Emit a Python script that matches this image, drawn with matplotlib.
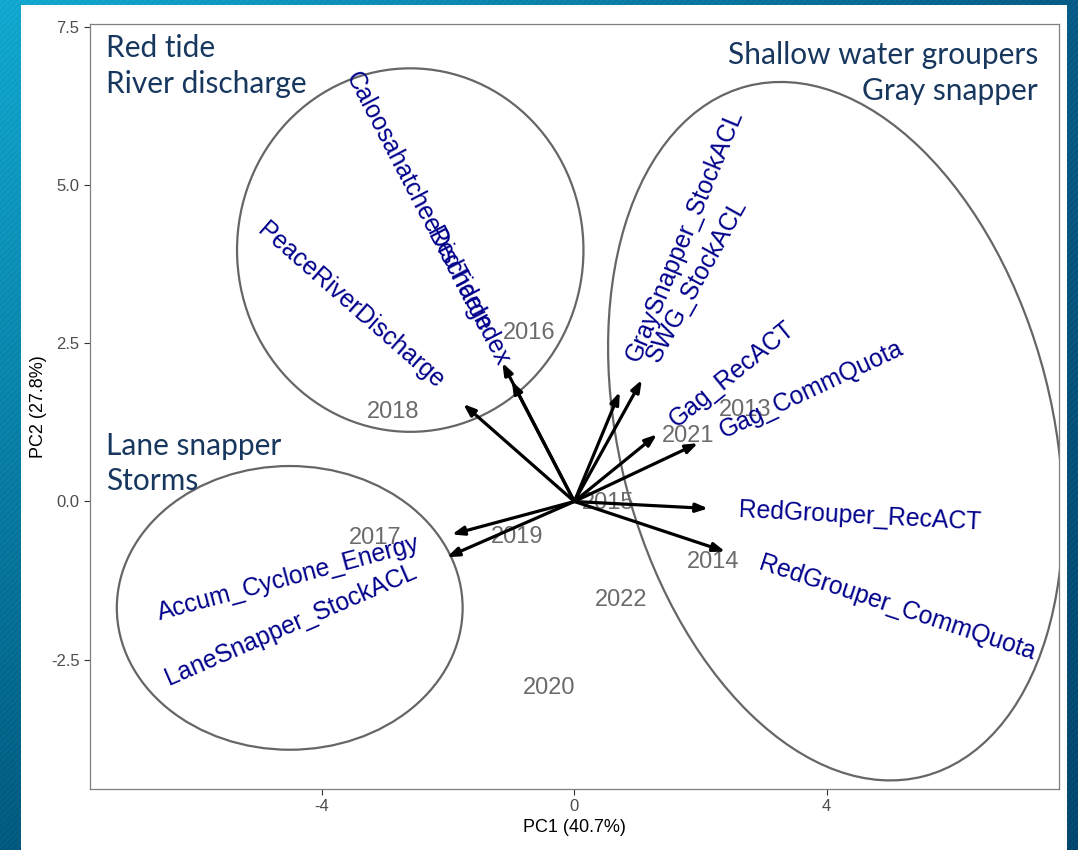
import numpy as np
import matplotlib.pyplot as plt
from matplotlib.patches import Ellipse, Rectangle, FancyArrowPatch
from matplotlib.font_manager import FontProperties

# variable loadings (arrows)
var_names = ['CaloosahatcheeDischarge', 'RedTideIndex', 'PeaceRiverDischarge',
             'GraySnapper_StockACL', 'SWG_StockACL', 'Gag_RecACT', 'Gag_CommQuota',
             'RedGrouper_RecACT', 'RedGrouper_CommQuota',
             'Accum_Cyclone_Energy', 'LaneSnapper_StockACL']
var_pc1 = [-1.14, -0.99, -1.76, 0.72, 1.07, 1.31, 1.96, 2.12, 2.39, -1.94, -2.02]
var_pc2 = [2.19, 1.90, 1.54, 1.73, 1.92, 1.06, 0.92, -0.11, -0.79, -0.52, -0.88]

# year scores
years = ['2013', '2014', '2015', '2016', '2017', '2018', '2019', '2020', '2021', '2022']
year_pc1 = [2.70, 2.20, 0.53, -0.72, -3.16, -2.87, -0.91, -0.40, 1.80, 0.74]
year_pc2 = [1.45, -0.96, -0.03, 2.66, -0.58, 1.41, -0.56, -2.94, 1.03, -1.56]

# group ellipses: centre x, centre y, width, height, angle
grp_cx = [-2.60, 4.14, -4.51]
grp_cy = [3.97, 1.11, -1.68]
grp_w = [5.49, 6.86, 5.48]
grp_h = [5.74, 11.25, 4.48]
grp_ang = [0, 14.4, 0]

W, H = 1078, 850
fig = plt.figure(figsize=(W / 100, H / 100), dpi=100)

# slide background: blue gradient with faint diagonal stripes
bg = fig.add_axes([0, 0, 1, 1], zorder=-10)
yy, xx = np.mgrid[0:1:H * 1j, 0:1:W * 1j]
tl = np.array([0x12, 0xa9, 0xd0]) / 255
tr = np.array([0x06, 0x5c, 0x86]) / 255
bl = np.array([0x02, 0x5a, 0x80]) / 255
br = np.array([0x02, 0x48, 0x6e]) / 255
xw = xx[..., None]
yw = yy[..., None]
img = (tl * (1 - xw) * (1 - yw) + tr * xw * (1 - yw)
       + bl * (1 - xw) * yw + br * xw * yw)
stripes = 0.015 * np.sin((xx * W + yy * H) * 2 * np.pi / 6.0)
img = np.clip(img + stripes[..., None], 0, 1)
bg.imshow(img, aspect='auto', extent=[0, 1, 0, 1], origin='upper')
bg.axis('off')
bg.add_patch(Rectangle((21 / W, 0), (1067 - 21) / W, 1 - 5 / H,
                       transform=bg.transAxes, facecolor='white', edgecolor='none'))

ax = fig.add_axes([90 / W, 1 - 789 / H, (1059 - 90) / W, (789 - 24) / H])
ax.set_xlim(-7.675, 7.681)
ax.set_ylim(-4.54, 7.54)
ax.set_facecolor('white')
for s in ax.spines.values():
    s.set_color('#7f7f7f')
    s.set_linewidth(0.9)
ax.set_xticks([-4, 0, 4])
ax.set_xticklabels(['-4', '0', '4'])
ax.set_yticks([-2.5, 0, 2.5, 5.0, 7.5])
ax.set_yticklabels(['-2.5', '0.0', '2.5', '5.0', '7.5'])
ax.tick_params(colors='#333333', labelcolor='#4d4d4d', labelsize=12, length=4, width=0.8)
for t in ax.get_xticklabels() + ax.get_yticklabels():
    t.set_family('Liberation Sans')
ax.set_xlabel('PC1 (40.7%)', fontsize=13, family='Liberation Sans', labelpad=3)
ax.set_ylabel('PC2 (27.8%)', fontsize=13, family='Liberation Sans', labelpad=3)

# group ellipses
for cx, cy, w, h, a in zip(grp_cx, grp_cy, grp_w, grp_h, grp_ang):
    ax.add_patch(Ellipse((cx, cy), w, h, angle=a, fill=False,
                         edgecolor='#666666', linewidth=1.6, zorder=2))

# year labels
for lab, x, y in zip(years, year_pc1, year_pc2):
    ax.text(x, y, lab, color='#6b6b6b', fontsize=17, family='Liberation Sans',
            ha='center', va='center', zorder=3)

# loading arrows
for x, y in zip(var_pc1, var_pc2):
    ax.add_patch(FancyArrowPatch((0, 0), (x, y),
                                 arrowstyle='-|>,head_length=0.35,head_width=0.13',
                                 mutation_scale=20, color='black', linewidth=2.3,
                                 shrinkA=0, shrinkB=0, zorder=4))

# variable labels, rotated along the arrow and pushed out past the tip
fig.canvas.draw()
renderer = fig.canvas.get_renderer()
vfont = FontProperties(family='Liberation Sans', size=17.8)
for name, x, y in zip(var_names, var_pc1, var_pc2):
    width = renderer.get_text_width_height_descent(name, vfont, ismath=False)[0]
    rot = np.degrees(np.arctan(y / x))
    r = np.hypot(x, y)
    gap = 0.125 * width * 72 / fig.dpi
    off = (gap * x / r, gap * y / r)
    ax.annotate(name, (x, y), xytext=off, textcoords='offset points',
                rotation=rot, rotation_mode='anchor',
                ha='left' if x > 0 else 'right', va='center',
                color='#00008b', fontproperties=vfont, zorder=5)

# group captions, one baseline per line
cap = dict(family='Lato', fontsize=21.5, color='#17375e', va='baseline')
fig.text(106 / W, 1 - 57 / H, 'Red tide', ha='left', **cap)
fig.text(106 / W, 1 - 93 / H, 'River discharge', ha='left', **cap)
fig.text(1038 / W, 1 - 64 / H, 'Shallow water groupers', ha='right', **cap)
fig.text(1038 / W, 1 - 100 / H, 'Gray snapper', ha='right', **cap)
fig.text(106 / W, 1 - 455 / H, 'Lane snapper', ha='left', **cap)
fig.text(106 / W, 1 - 490 / H, 'Storms', ha='left', **cap)

fig.savefig('out.png', dpi=100)
